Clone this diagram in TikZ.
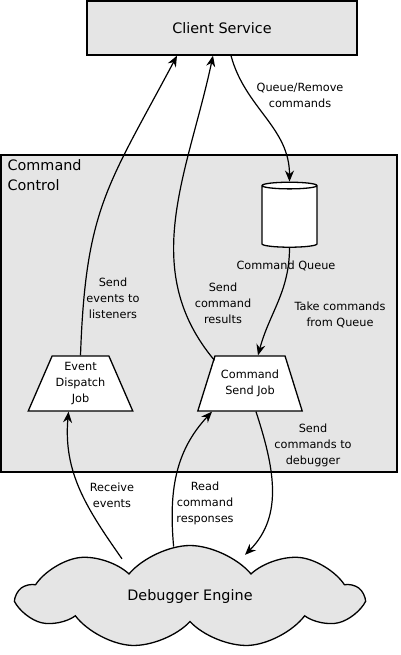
\documentclass[tikz,border=0pt]{standalone}
\usepackage{fontspec}
\setmainfont{DejaVu Sans}
\usetikzlibrary{shapes.geometric,shapes.symbols,arrows.meta}

\definecolor{panelgray}{HTML}{E5E5E5}
\newcommand{\smalltext}{\fontsize{11.3}{16}\selectfont}
\newcommand{\bigtext}{\fontsize{14.4}{20}\selectfont}

\tikzstyle{panel}=[rectangle,draw,fill=panelgray,line width=1.3pt,inner sep=0pt]
\tikzstyle{job}=[trapezium,draw,fill=white,line width=1.3pt,trapezium left angle=67,trapezium right angle=67,trapezium stretches=true,minimum width=105pt,minimum height=55pt,inner xsep=0pt,align=center,font=\smalltext]
\tikzstyle{store}=[cylinder,shape border rotate=90,draw,fill=white,line width=1.3pt,aspect=1,minimum width=55pt,minimum height=65pt]
\tikzstyle{lbl}=[align=center,inner sep=0pt,font=\smalltext]

\begin{document}
\begin{tikzpicture}[x=1pt,y=1pt,->,>={Stealth[length=11pt,width=9pt]},line width=1.2pt]
			\useasboundingbox (0,0) rectangle (400,-655);
			\node [panel,minimum width=396pt,minimum height=317pt] (control) at (199,-313.5) {};
			\node [anchor=north west,align=left,inner sep=0pt,font=\bigtext] (ctitle) at (7,-159) {Command\\Control};
			\node [panel,minimum width=270pt,minimum height=54pt,font=\bigtext] (client) at (222,-28) {Client Service};
			\node [store] (queue) at (289.5,-217.5) {};
			\node [job] (dispatch) at (80.5,-383.5) {Event\\Dispatch\\Job};
			\node [job] (sender) at (250,-383.5) {Command\\Send Job};
			\node [cloud,draw,fill=panelgray,line width=1.3pt,cloud puffs=9,cloud puff arc=100,aspect=3.3,minimum width=343pt,minimum height=103pt,font=\bigtext] (engine) at (190,-597) {Debugger Engine};

			\node [lbl] (qlabel)   at (286,-266) {Command Queue};
			\node [lbl] (queuerm)  at (300,-95)  {Queue/Remove\\commands};
			\node [lbl] (sendevt)  at (113,-298) {Send\\events to\\listeners};
			\node [lbl] (sendres)  at (223,-303) {Send\\command\\results};
			\node [lbl] (takecmd)  at (340,-315) {Take commands\\from Queue};
			\node [lbl] (sendcmd)  at (313,-445) {Send\\commands to\\debugger};
			\node [lbl] (recvevt)  at (112,-495) {Receive\\events};
			\node [lbl] (readres)  at (205,-503) {Read\\command\\responses};

			\draw (dispatch.north) to[out=88,in=242,looseness=1.2] ([xshift=-45pt]client.south);
			\draw ([yshift=-5pt]sender.top left corner) to[out=130,in=258] ([xshift=-9pt]client.south);
			\draw ([xshift=9pt]client.south) to[out=-75,in=90] (queue.north);
			\draw (queue.south) to[out=-90,in=75] ([xshift=8pt]sender.north);
			\draw ([xshift=6pt]sender.south) to[out=-72,in=45] ([xshift=55pt,yshift=-10pt]engine.north);
			\draw ([xshift=-68pt,yshift=-14pt]engine.north) to[out=125,in=-95] ([xshift=-12pt]dispatch.south);
			\draw (engine.108) to[out=95,in=227] ([xshift=-38pt]sender.south);
	\end{tikzpicture}
\end{document}
